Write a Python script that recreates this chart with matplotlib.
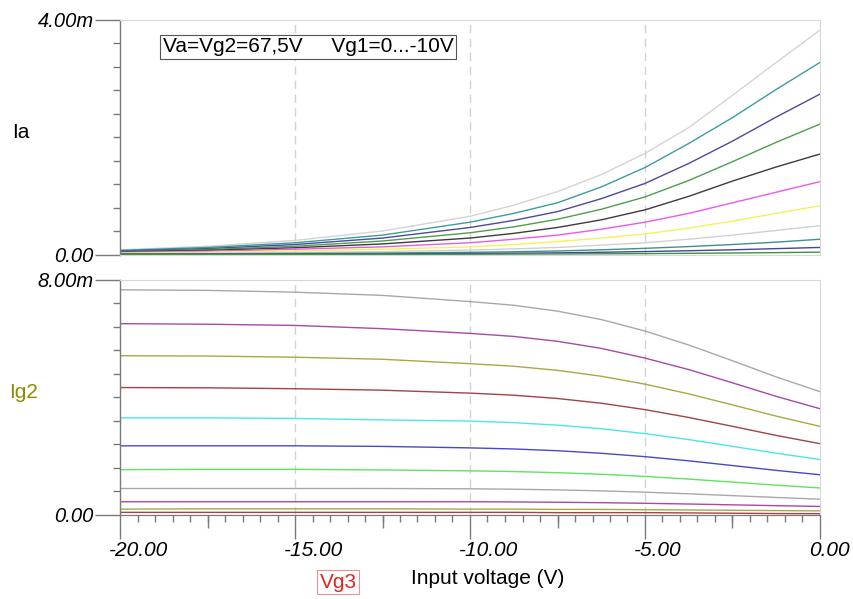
import matplotlib
matplotlib.use('Agg')
import matplotlib.pyplot as plt
import matplotlib.transforms as mtransforms
from matplotlib.ticker import MultipleLocator, FixedLocator, FixedFormatter

plt.rcParams['font.family'] = ['Liberation Sans', 'DejaVu Sans']

# ---------------- data ----------------
vin = [-20, -17.5, -15, -12.5, -10, -8.75, -7.5, -6.25, -5, -3.75, -2.5, -1.25, 0]  # Vg3 (V)

# Anode current Ia (mA), Vg1 = 0 ... -10 V
ia_curves = [
    [0.080, 0.140, 0.240, 0.400, 0.650, 0.840, 1.070, 1.360, 1.720, 2.160, 2.710, 3.270, 3.820],
    [0.070, 0.120, 0.200, 0.330, 0.550, 0.700, 0.880, 1.150, 1.480, 1.890, 2.330, 2.810, 3.270],
    [0.060, 0.100, 0.170, 0.280, 0.460, 0.580, 0.730, 0.950, 1.210, 1.550, 1.930, 2.340, 2.730],
    [0.050, 0.085, 0.140, 0.230, 0.370, 0.470, 0.600, 0.770, 0.980, 1.260, 1.580, 1.910, 2.220],
    [0.045, 0.070, 0.115, 0.180, 0.280, 0.360, 0.460, 0.590, 0.760, 0.990, 1.250, 1.490, 1.710],
    [0.035, 0.055, 0.090, 0.130, 0.200, 0.260, 0.330, 0.430, 0.550, 0.700, 0.880, 1.060, 1.240],
    [0.025, 0.040, 0.060, 0.090, 0.130, 0.170, 0.220, 0.280, 0.350, 0.450, 0.570, 0.700, 0.830],
    [0.015, 0.022, 0.033, 0.050, 0.075, 0.095, 0.120, 0.160, 0.200, 0.260, 0.330, 0.410, 0.490],
    [0.010, 0.013, 0.018, 0.025, 0.037, 0.047, 0.060, 0.080, 0.105, 0.135, 0.170, 0.210, 0.260],
    [0.005, 0.006, 0.008, 0.011, 0.017, 0.022, 0.028, 0.038, 0.050, 0.064, 0.080, 0.100, 0.120],
    [0.000, 0.001, 0.002, 0.003, 0.005, 0.007, 0.009, 0.012, 0.015, 0.020, 0.025, 0.032, 0.040],
]

# Screen grid current Ig2 (mA)
ig2_curves = [
    [7.65, 7.63, 7.57, 7.46, 7.25, 7.125, 6.925, 6.64, 6.25, 5.775, 5.24, 4.69, 4.19],
    [6.50, 6.48, 6.44, 6.33, 6.17, 6.066, 5.90, 5.66, 5.33, 4.94, 4.49, 4.03, 3.61],
    [5.41, 5.40, 5.36, 5.29, 5.14, 5.053, 4.914, 4.714, 4.445, 4.115, 3.741, 3.359, 3.011],
    [4.33, 4.32, 4.29, 4.24, 4.14, 4.07, 3.958, 3.797, 3.58, 3.313, 3.012, 2.703, 2.423],
    [3.30, 3.30, 3.28, 3.23, 3.19, 3.137, 3.052, 2.929, 2.764, 2.562, 2.333, 2.098, 1.885],
    [2.35, 2.35, 2.35, 2.33, 2.28, 2.243, 2.183, 2.097, 1.982, 1.84, 1.68, 1.516, 1.367],
    [1.54, 1.55, 1.55, 1.53, 1.50, 1.476, 1.438, 1.384, 1.310, 1.22, 1.118, 1.013, 0.918],
    [0.90, 0.90, 0.90, 0.90, 0.89, 0.876, 0.853, 0.82, 0.775, 0.72, 0.658, 0.595, 0.537],
    [0.45, 0.45, 0.45, 0.45, 0.45, 0.443, 0.433, 0.418, 0.398, 0.373, 0.345, 0.317, 0.291],
    [0.20, 0.21, 0.21, 0.21, 0.20, 0.20, 0.19, 0.19, 0.18, 0.17, 0.16, 0.15, 0.14],
    [0.09, 0.09, 0.09, 0.09, 0.09, 0.09, 0.08, 0.08, 0.08, 0.07, 0.06, 0.05, 0.045],
]

ia_colors = ['#d4d4d4', '#3f9c9c', '#4a4a9e', '#4e9e4e', '#3c3c3c', '#e65ce6',
             '#f2f25a', '#d0d0d0', '#3f9090', '#44449a', '#3f913f']
ig2_colors = ['#a8a8a8', '#a848a8', '#a8a848', '#a04444', '#48e8e8', '#4848c8',
              '#5ee45e', '#a8a8a8', '#a848a8', '#a8a848', '#a04444']

x_major = [-20, -15, -10, -5, 0]
x_major_labels = ['-20.00', '-15.00', '-10.00', '-5.00', '0.00']
x_medium = [-17.5, -12.5, -7.5, -2.5]
grid_v = [-15, -10, -5]

ia_ticks = [0, 4]
ia_tick_labels = ['0.00', '4.00m']
ig2_ticks = [0, 8]
ig2_tick_labels = ['0.00', '8.00m']

# ---------------- figure ----------------
W, H = 854, 599
fig = plt.figure(figsize=(W / 100, H / 100), dpi=100)
ax1 = fig.add_axes([120 / W, 1 - 254.5 / H, 700 / W, 235 / H])
ax2 = fig.add_axes([120 / W, 1 - 515 / H, 700 / W, 235.5 / H])

light = '#d8d8d8'
dark = '#7a7a7a'
tickfont = 14.5

for ax, curves, colors, ticks, tlabels, ymax, minor in (
        (ax1, ia_curves, ia_colors, ia_ticks, ia_tick_labels, 4, 0.4),
        (ax2, ig2_curves, ig2_colors, ig2_ticks, ig2_tick_labels, 8, 0.8)):
    for gv in grid_v:
        ax.axvline(gv, color='#d2d2d2', lw=1.0, ls=(0, (6, 4)), zorder=1)
    for ys, c in zip(curves, colors):
        ax.plot(vin, ys, color=c, lw=1.0, zorder=2)
    ax.set_xlim(-20, 0)
    ax.set_ylim(0, ymax)
    for s in ('top', 'right'):
        ax.spines[s].set_color(light)
    ax.spines['left'].set_color(dark)
    ax.spines['left'].set_linewidth(1.0)
    ax.yaxis.set_major_locator(FixedLocator(ticks))
    ax.yaxis.set_major_formatter(FixedFormatter(tlabels))
    ax.yaxis.set_minor_locator(MultipleLocator(minor))
    ax.tick_params(axis='y', which='major', length=18, width=1, color=dark,
                   pad=1, labelsize=tickfont)
    ax.tick_params(axis='y', which='minor', length=5, width=1, color=dark)
    for lab in ax.get_yticklabels():
        lab.set_fontstyle('italic')

ax1.spines['bottom'].set_color(light)
ax1.tick_params(axis='x', which='both', bottom=False, labelbottom=False)

ax2.spines['bottom'].set_color(dark)
ax2.xaxis.set_major_locator(FixedLocator(x_major))
ax2.xaxis.set_major_formatter(FixedFormatter(x_major_labels))
ax2.xaxis.set_minor_locator(MultipleLocator(0.5))
ax2.tick_params(axis='x', which='major', length=17, width=1, color=dark,
                pad=2, labelsize=tickfont + 0.5)
ax2.tick_params(axis='x', which='minor', length=5, width=1, color=dark)
off = mtransforms.ScaledTranslation(-11 / 100, 0, fig.dpi_scale_trans)
for lab in ax2.get_xticklabels():
    lab.set_fontstyle('italic')
    lab.set_horizontalalignment('left')
    lab.set_transform(lab.get_transform() + off)

sec = ax2.secondary_xaxis('bottom')
sec.xaxis.set_major_locator(FixedLocator(x_medium))
sec.tick_params(axis='x', which='major', length=9, width=1, color=dark,
                labelbottom=False)
sec.xaxis.set_minor_locator(FixedLocator([]))
sec.spines['bottom'].set_color(dark)

# ---------------- texts ----------------
fig.text(163 / W, 1 - 46.5 / H, 'Va=Vg2=67,5V     Vg1=0...-10V', fontsize=15,
         ha='left', va='center',
         bbox=dict(boxstyle='square,pad=0.12', fc='white', ec='#555555', lw=0.8))
fig.text(12 / W, 1 - 132 / H, 'Ia', fontsize=15, ha='left', va='center', color='black')
fig.text(9 / W, 1 - 392 / H, 'Ig2', fontsize=15, ha='left', va='center', color='#8c8c00')
fig.text(488 / W, 1 - 578 / H, 'Input voltage (V)', fontsize=15, ha='center', va='center')
fig.text(338 / W, 1 - 582 / H, 'Vg3', fontsize=15, ha='center', va='center', color='#e02424',
         bbox=dict(boxstyle='square,pad=0.12', fc='white', ec='#f09090', lw=0.8))

fig.savefig('out.png', dpi=100)
